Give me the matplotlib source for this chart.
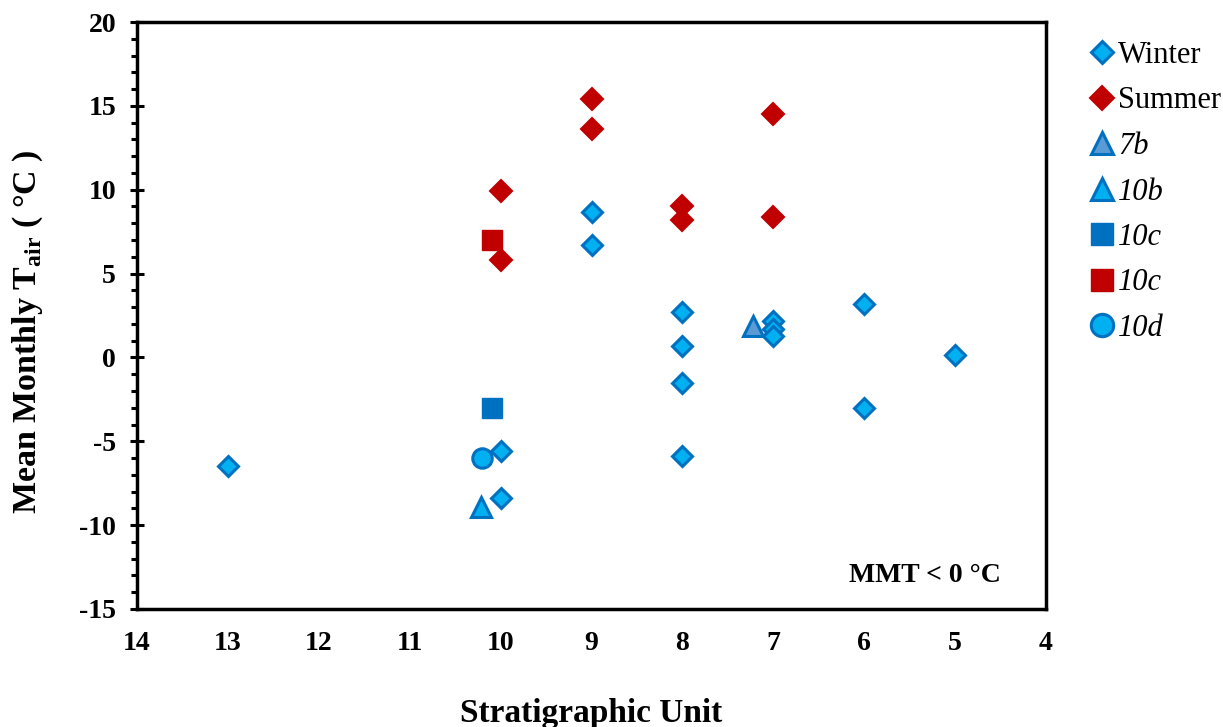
import matplotlib
matplotlib.use("Agg")
import matplotlib.pyplot as plt
from matplotlib.ticker import MultipleLocator

plt.rcParams['font.family'] = ['Liberation Serif', 'DejaVu Serif']
plt.rcParams['mathtext.fontset'] = 'custom'
plt.rcParams['mathtext.rm'] = 'Liberation Serif:bold'
plt.rcParams['mathtext.bf'] = 'Liberation Serif:bold'
plt.rcParams['axes.unicode_minus'] = False

# Data
winter_x = [13, 10, 10, 9, 9, 8, 8, 8, 8, 7, 7, 7, 6, 6, 5]
winter_y = [-6.5, -5.6, -8.4, 8.7, 6.7, 2.7, 0.7, -1.5, -5.9, 2.2, 1.7, 1.3, 3.2, -3.0, 0.15]
summer_x = [10, 10, 9, 9, 8, 8, 7, 7]
summer_y = [9.9, 5.8, 15.4, 13.6, 9.0, 8.2, 14.5, 8.4]
u7b_x, u7b_y = [7.22], [1.9]
u10b_x, u10b_y = [10.22], [-8.9]
u10c_w_x, u10c_w_y = [10.1], [-3.0]
u10c_s_x, u10c_s_y = [10.1], [7.0]
u10d_x, u10d_y = [10.2], [-6.0]

light_blue = '#00B0F0'
dark_blue = '#0070C0'
red = '#C00000'
mid_blue = '#5B9BD5'

fig = plt.figure(figsize=(12.23, 7.27), dpi=100)
ax = fig.add_axes([137/1223, 1-609/727, (1046-137)/1223, (609-22)/727])

ax.plot(u7b_x, u7b_y, ls='none', marker='^', ms=14, mfc=mid_blue, mec=dark_blue, mew=2.2, label='7b', zorder=2)
ax.plot(winter_x, winter_y, ls='none', marker='D', ms=10, mfc=light_blue, mec=dark_blue, mew=2.2, label='Winter', zorder=3)
ax.plot(summer_x, summer_y, ls='none', marker='D', ms=11, mfc=red, mec=red, mew=1.5, label='Summer', zorder=3)
ax.plot(u10b_x, u10b_y, ls='none', marker='^', ms=14, mfc=light_blue, mec=dark_blue, mew=2.2, label='10b', zorder=4)
ax.plot(u10c_w_x, u10c_w_y, ls='none', marker='s', ms=14, mfc=dark_blue, mec=dark_blue, mew=1, label='10c', zorder=4)
ax.plot(u10c_s_x, u10c_s_y, ls='none', marker='s', ms=14, mfc=red, mec=red, mew=1, label='10c ', zorder=2)
ax.plot(u10d_x, u10d_y, ls='none', marker='o', ms=14, mfc=light_blue, mec=dark_blue, mew=2.2, label='10d', zorder=4)

ax.set_xlim(14, 4)
ax.set_ylim(-15, 20)
ax.xaxis.set_major_locator(MultipleLocator(1))
ax.yaxis.set_major_locator(MultipleLocator(5))
ax.yaxis.set_minor_locator(MultipleLocator(1))
ax.tick_params(axis='x', length=0, pad=16, labelsize=20)
ax.tick_params(axis='y', which='major', direction='inout', length=10, width=2.2, pad=10, labelsize=20)
ax.tick_params(axis='y', which='minor', direction='out', length=4, width=2.2)
for lab in ax.get_xticklabels() + ax.get_yticklabels():
    lab.set_fontweight('bold')
for sp in ax.spines.values():
    sp.set_linewidth(2.5)

ax.set_xlabel('Stratigraphic Unit', fontsize=24, fontweight='bold', labelpad=30)
fig.text(28/1223, 1-332/727, r'Mean Monthly T$_{\mathrm{air}}$ ( °C )', rotation=90,
         fontsize=24.5, fontweight='bold', ha='center', va='center')

ax.text(0.783, 0.057, 'MMT < 0 °C', transform=ax.transAxes, fontsize=20, fontweight='bold', ha='left', va='center')

handles, labels = ax.get_legend_handles_labels()
order = ['Winter', 'Summer', '7b', '10b', '10c', '10c ', '10d']
hmap = dict(zip(labels, handles))
hs = [hmap[k] for k in order]
ls_ = [k.strip() for k in order]
leg = fig.legend(hs, ls_, loc='upper left', bbox_to_anchor=(1090/1223, 1-41/727), frameon=False,
                 fontsize=22, handlelength=0.8, handletextpad=0.12, labelspacing=0.54, borderpad=0,
                 borderaxespad=0, markerscale=1.15)
for t in leg.get_texts()[2:]:
    t.set_fontstyle('italic')

fig.savefig('out.png', dpi=100)
